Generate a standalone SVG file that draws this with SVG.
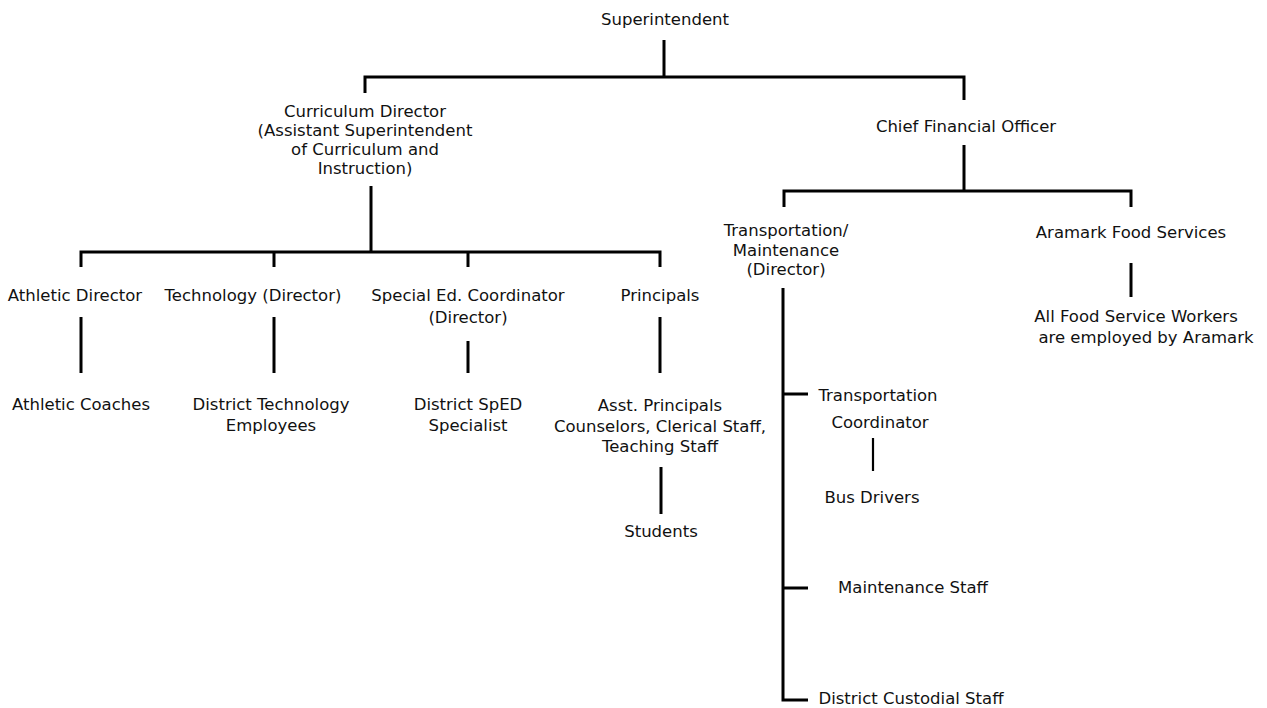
<svg xmlns="http://www.w3.org/2000/svg" width="1267" height="708" viewBox="0 0 1267 708">
<style>
text{font-family:"DejaVu Sans","Liberation Sans",sans-serif;font-size:16.5px;fill:#111;text-anchor:middle}
.ln{stroke:#000;stroke-width:3;fill:none}
.thin{stroke:#000;stroke-width:2.2;fill:none}
</style>
<rect width="1267" height="708" fill="#fff"/>
<g id="connectors">
<path class="ln" d="M664 40V77M365 93V77H964V100"/>
<path class="ln" d="M371 186V252M81 267V252H660V267M274 252V267M468 252V267"/>
<path class="ln" d="M81 317V373M274 317V373M468 341V373M660 317V373"/>
<path class="ln" d="M661 467V514"/>
<path class="ln" d="M964 145V191M784 207V191H1131V207"/>
<path class="ln" d="M1131 263V297"/>
<path class="ln" d="M783 288V700H808M783 394H808M783 588H808"/>
<path class="thin" d="M873 438V471"/>
</g>
<g id="superintendent"><text x="665" y="25">Superintendent</text></g>
<g id="curriculum-director"><text x="365" y="117">Curriculum Director</text><text x="365" y="136">(Assistant Superintendent</text><text x="365" y="155">of Curriculum and</text><text x="365" y="174">Instruction)</text></g>
<g id="cfo"><text x="966" y="132">Chief Financial Officer</text></g>
<g id="athletic-director"><text x="75" y="301">Athletic Director</text></g>
<g id="technology-director"><text x="253" y="301">Technology (Director)</text></g>
<g id="sped-coordinator"><text x="468" y="301">Special Ed. Coordinator</text><text x="468" y="323">(Director)</text></g>
<g id="principals"><text x="660" y="301">Principals</text></g>
<g id="athletic-coaches"><text x="81" y="410">Athletic Coaches</text></g>
<g id="district-technology"><text x="271" y="410">District Technology</text><text x="271" y="431">Employees</text></g>
<g id="district-sped"><text x="468" y="410">District SpED</text><text x="468" y="431">Specialist</text></g>
<g id="asst-principals"><text x="660" y="411">Asst. Principals</text><text x="660" y="432">Counselors, Clerical Staff,</text><text x="660" y="452">Teaching Staff</text></g>
<g id="students"><text x="661" y="537">Students</text></g>
<g id="transportation-maintenance"><text x="786" y="236">Transportation/</text><text x="786" y="256">Maintenance</text><text x="786" y="275">(Director)</text></g>
<g id="aramark"><text x="1131" y="238">Aramark Food Services</text></g>
<g id="food-workers"><text x="1136" y="322">All Food Service Workers</text><text x="1146" y="343">are employed by Aramark</text></g>
<g id="transportation-coordinator"><text x="878" y="401">Transportation</text><text x="880" y="428">Coordinator</text></g>
<g id="bus-drivers"><text x="872" y="503">Bus Drivers</text></g>
<g id="maintenance-staff"><text x="913" y="593">Maintenance Staff</text></g>
<g id="custodial-staff"><text x="911" y="704">District Custodial Staff</text></g>
</svg>
